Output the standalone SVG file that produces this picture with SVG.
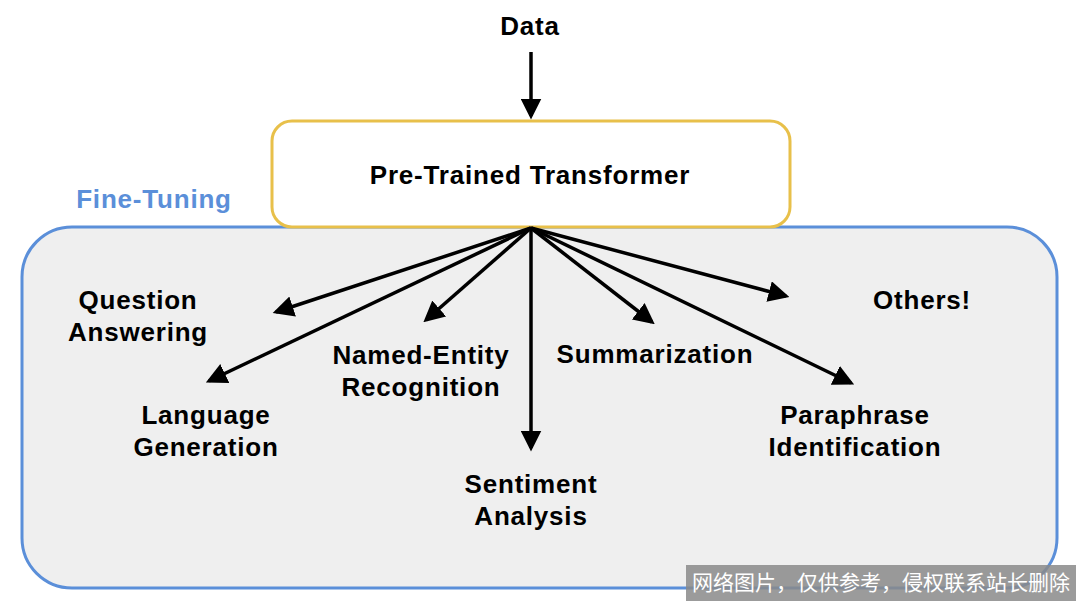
<svg xmlns="http://www.w3.org/2000/svg" width="1080" height="603" viewBox="0 0 1080 603">
<style>
text{font-family:"Liberation Sans",Arial,sans-serif;font-weight:bold;font-size:26px;letter-spacing:0.8px;fill:#000;text-anchor:middle}
.c line{stroke:#000;stroke-width:3.5;marker-end:url(#ah)}
</style>
<defs><marker id="ah" markerWidth="6" markerHeight="6" refX="5" refY="3" orient="auto"><path d="M0,0 L6,3 L0,6 z" fill="#000"/></marker></defs>
<rect width="1080" height="603" fill="#fff"/>
<g id="finetuning">
<rect x="22" y="227" width="1035" height="361" rx="50" fill="#efefef" stroke="#5b8fd9" stroke-width="3"/>
<text x="154" y="208" style="fill:#5b8fd9">Fine-Tuning</text>
</g>
<g id="data"><text x="530" y="35">Data</text></g>
<g id="transformer">
<rect x="272" y="121" width="518" height="106" rx="20" fill="#fff" stroke="#e8c04a" stroke-width="3"/>
<text x="530" y="184">Pre-Trained Transformer</text>
</g>
<g class="c" id="connectors">
<line x1="531" y1="52" x2="531" y2="116"/>
<line x1="531" y1="228" x2="276" y2="312"/>
<line x1="531" y1="228" x2="209" y2="381"/>
<line x1="531" y1="228" x2="426" y2="320"/>
<line x1="531" y1="228" x2="531" y2="448"/>
<line x1="531" y1="228" x2="652" y2="322"/>
<line x1="531" y1="228" x2="786" y2="296"/>
<line x1="531" y1="228" x2="851" y2="383"/>
</g>
<g id="qa"><text x="138" y="309">Question</text><text x="138" y="341">Answering</text></g>
<g id="lg"><text x="206" y="424">Language</text><text x="206" y="456">Generation</text></g>
<g id="ner"><text x="421" y="364">Named-Entity</text><text x="421" y="396">Recognition</text></g>
<g id="sa"><text x="531" y="493">Sentiment</text><text x="531" y="525">Analysis</text></g>
<g id="sum"><text x="655" y="363">Summarization</text></g>
<g id="pi"><text x="855" y="424">Paraphrase</text><text x="855" y="456">Identification</text></g>
<g id="others"><text x="922" y="309">Others!</text></g>
<g id="watermark">
<rect x="686" y="565" width="390" height="36" fill="#8a8a8a" opacity="0.85"/>
<text x="881" y="590" style="fill:#fff;font-weight:normal;font-size:21px;letter-spacing:0;font-family:'Noto Sans CJK SC',sans-serif">网络图片，仅供参考，侵权联系站长删除</text>
</g>
</svg>
